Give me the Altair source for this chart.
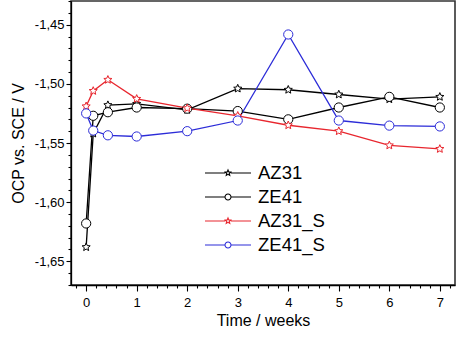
import math
import altair as alt
import pandas as pd

# ---- data ----
series_names = ["AZ31", "ZE41", "AZ31_S", "ZE41_S"]
times = [0, 0.14, 0.43, 1, 2, 3, 4, 5, 6, 7]
az31 = [-1.638, -1.542, -1.518, -1.517, -1.522, -1.504, -1.505, -1.509, -1.513, -1.511]
ze41 = [-1.618, -1.527, -1.524, -1.520, -1.521, -1.523, -1.530, -1.520, -1.511, -1.520]
az31_s = [-1.519, -1.506, -1.4966, -1.5127, -1.5206, -1.527, -1.535, -1.540, -1.552, -1.555]
ze41_s = [-1.525, -1.5395, -1.5435, -1.5445, -1.540, -1.531, -1.4583, -1.531, -1.5353, -1.536]

x_ticks = [round(-0.2 + 0.2 * i, 2) for i in range(38)]   # major at integers, minor every 0.2
y_ticks = [round(-1.67 + 0.01 * i, 2) for i in range(25)]  # major every 0.05, minor every 0.01

colors = ["#000000", "#000000", "#e8262e", "#2c2cd8"]

rows = []
for name, vals in zip(series_names, [az31, ze41, az31_s, ze41_s]):
    for t, v in zip(times, vals):
        rows.append({"series": name, "t": t, "v": v})
df = pd.DataFrame(rows)

# ---- symbol paths ----
def star_path(r_out, r_in):
    pts = []
    for k in range(10):
        a = math.radians(-90 + 36 * k)
        r = r_out if k % 2 == 0 else r_in
        pts.append((r * math.cos(a), r * math.sin(a)))
    return "M" + "L".join(f"{x:.4f},{y:.4f}" for x, y in pts) + "Z"

def circle_path(r):
    return f"M{r:.4f},0A{r:.4f},{r:.4f} 0 1,1 {-r:.4f},0A{r:.4f},{r:.4f} 0 1,1 {r:.4f},0Z"

STAR = star_path(0.92, 0.42)
CIRC = "circle"
shapes = [STAR, CIRC, STAR, CIRC]

ls = 0.13
leg_star = f"M-1,0L{-ls*0.95:.4f},0M{ls*0.95:.4f},0L1,0" + star_path(ls, ls * 0.45)
leg_circ = f"M-1,0L{-ls:.4f},0M{ls:.4f},0L1,0" + circle_path(ls)
leg_shapes = [leg_star, leg_circ, leg_star, leg_circ]

FONT = "Liberation Sans"

xscale = alt.Scale(domain=[-0.3, 7.3], nice=False, zero=False)
yscale = alt.Scale(domain=[-1.67, -1.43], nice=False, zero=False)

x_major_test = "abs(datum.value - round(datum.value)) < 0.001"
y_major_test = "abs(datum.value * 20 - round(datum.value * 20)) < 0.001"

x_label_expr = f"({x_major_test}) ? format(datum.value, 'd') : ''"
y_label_expr = (f"({y_major_test}) ? replace(replace(format(datum.value, '.2f'), '.', ','), '\u2212', '-') : ''")

x_axis = alt.Axis(orient="bottom", values=x_ticks, tickCount=500, labelExpr=x_label_expr,
                  title="Time / weeks",
                  tickSize={"condition": {"test": x_major_test, "value": 6}, "value": 3},
                  labelOverlap=False, labelFlush=False, labelPadding=5, titlePadding=3)
y_axis = alt.Axis(orient="left", values=y_ticks, tickCount=500, labelExpr=y_label_expr,
                  title="OCP vs. SCE / V",
                  tickSize={"condition": {"test": y_major_test, "value": 5}, "value": 3},
                  labelOverlap=False, labelFlush=False, labelPadding=2, titlePadding=8)

base = alt.Chart(df)

lines = base.mark_line(strokeWidth=1.3).encode(
    x=alt.X("t:Q", scale=xscale, axis=x_axis),
    y=alt.Y("v:Q", scale=yscale, axis=y_axis),
    color=alt.Color("series:N", scale=alt.Scale(domain=series_names, range=colors), legend=None),
    detail="series:N",
)

points = base.mark_point(filled=False, fill="white", fillOpacity=1, size=85, strokeWidth=1.0, opacity=1).encode(
    x=alt.X("t:Q", scale=xscale),
    y=alt.Y("v:Q", scale=yscale),
    color=alt.Color("series:N", scale=alt.Scale(domain=series_names, range=colors), legend=None),
    shape=alt.Shape("series:N", scale=alt.Scale(domain=series_names, range=shapes), legend=None),
)

leg = alt.Legend(title=None, orient="none", legendX=133, legendY=160, symbolSize=2116,
                 clipHeight=24, rowPadding=0, padding=0, labelOffset=6, labelFontSize=18.5,
                 labelFont=FONT, labelColor="black", symbolStrokeWidth=1.1, symbolOpacity=1,
                 symbolFillColor="transparent")

legend_layer = base.mark_point(filled=False, opacity=0, size=1).encode(
    x=alt.X("t:Q", scale=xscale),
    y=alt.Y("v:Q", scale=yscale),
    color=alt.Color("series:N", scale=alt.Scale(domain=series_names, range=colors), legend=leg),
    shape=alt.Shape("series:N", scale=alt.Scale(domain=series_names, range=leg_shapes), legend=leg),
)

chart = alt.layer(lines, points, legend_layer).resolve_scale(
    color="independent", shape="independent"
).properties(
    width=384, height=284, autosize="none",
    padding={"left": 71, "top": 1, "right": 19, "bottom": 62},
    background="white",
).configure_view(stroke="#333333", strokeWidth=1.6).configure_axis(
    grid=False, domainColor="black", domainWidth=1.3, tickColor="black", tickWidth=1.1,
    labelFont=FONT, labelFontSize=13, labelColor="black",
    titleFont=FONT, titleFontSize=16, titleFontWeight="normal", titleColor="black",
)

chart.save("out.html", embed_options={"renderer": "svg", "actions": False})
